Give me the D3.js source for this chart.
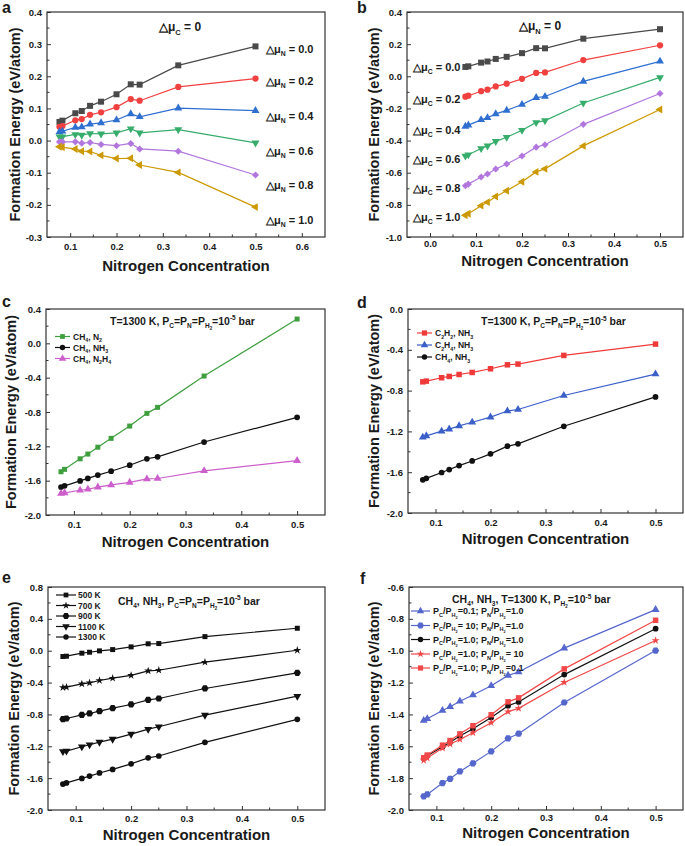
<!DOCTYPE html>
<html><head><meta charset="utf-8">
<script src="https://cdn.jsdelivr.net/npm/d3@7"></script>
<style>body{margin:0;background:#fff}svg{display:block}text{font-family:"Liberation Sans",Arial,sans-serif;font-weight:bold;fill:#1a1a1a}</style>
</head><body><svg id="c" width="685" height="846"></svg>
<script>
// ---------- data ----------
const xConc = [0.0769, 0.0833, 0.1111, 0.125, 0.1429, 0.1667, 0.2, 0.2308, 0.25, 0.3333, 0.5];

// panel a: Δμ_C = 0, varying Δμ_N
const aLabels = ["0.0", "0.2", "0.4", "0.6", "0.8", "1.0"];
const aN00 = [0.058, 0.062, 0.085, 0.092, 0.108, 0.121, 0.144, 0.175, 0.174, 0.234, 0.293];
const aN02 = [0.043, 0.045, 0.063, 0.067, 0.080, 0.088, 0.104, 0.129, 0.124, 0.167, 0.193];
const aN04 = [0.027, 0.029, 0.041, 0.042, 0.051, 0.055, 0.064, 0.083, 0.074, 0.101, 0.093];
const aN06 = [0.012, 0.012, 0.019, 0.017, 0.022, 0.021, 0.024, 0.037, 0.024, 0.034, -0.007];
const aN08 = [-0.004, -0.004, -0.004, -0.008, -0.006, -0.012, -0.016, -0.009, -0.026, -0.033, -0.107];
const aN10 = [-0.019, -0.021, -0.026, -0.033, -0.034, -0.046, -0.056, -0.055, -0.076, -0.099, -0.207];

// panel b: Δμ_N = 0, varying Δμ_C
const bC00 = [0.058, 0.062, 0.085, 0.092, 0.108, 0.121, 0.144, 0.175, 0.174, 0.234, 0.293];
const bC02 = [-0.127, -0.121, -0.093, -0.083, -0.063, -0.046, -0.016, 0.021, 0.024, 0.101, 0.193];
const bC04 = [-0.312, -0.304, -0.271, -0.258, -0.234, -0.212, -0.176, -0.133, -0.126, -0.032, 0.093];
const bC06 = [-0.496, -0.488, -0.449, -0.433, -0.405, -0.379, -0.336, -0.287, -0.276, -0.166, -0.007];
const bC08 = [-0.681, -0.671, -0.627, -0.608, -0.577, -0.546, -0.496, -0.441, -0.426, -0.299, -0.107];
const bC10 = [-0.865, -0.855, -0.805, -0.783, -0.748, -0.712, -0.656, -0.595, -0.576, -0.433, -0.207];

// panel c
const cCH4N2   = [-1.496, -1.468, -1.345, -1.290, -1.210, -1.107, -0.964, -0.816, -0.746, -0.381, 0.283];
const cCH4NH3  = [-1.675, -1.660, -1.603, -1.574, -1.535, -1.490, -1.420, -1.345, -1.322, -1.150, -0.862];
const cCH4N2H4 = [-1.750, -1.742, -1.712, -1.700, -1.675, -1.650, -1.620, -1.580, -1.575, -1.485, -1.367];

// panel d
const dC2H2NH3 = [-0.714, -0.707, -0.674, -0.661, -0.642, -0.622, -0.586, -0.547, -0.540, -0.455, -0.344];
const dC2H4NH3 = [-1.257, -1.244, -1.198, -1.178, -1.146, -1.110, -1.060, -1.000, -0.985, -0.848, -0.638];
const dCH4NH3  = [-1.675, -1.660, -1.603, -1.574, -1.535, -1.490, -1.420, -1.345, -1.322, -1.150, -0.862];

// panel e
const e500  = [-0.073, -0.069, -0.031, -0.019, -0.002, 0.014, 0.048, 0.087, 0.090, 0.177, 0.282];
const e700  = [-0.462, -0.457, -0.416, -0.403, -0.374, -0.345, -0.310, -0.253, -0.245, -0.144, 0.006];
const e900  = [-0.859, -0.851, -0.805, -0.788, -0.759, -0.721, -0.675, -0.617, -0.600, -0.474, -0.278];
const e1100 = [-1.265, -1.260, -1.206, -1.181, -1.148, -1.110, -1.047, -0.985, -0.955, -0.809, -0.571];
const e1300 = [-1.675, -1.660, -1.603, -1.574, -1.535, -1.490, -1.420, -1.345, -1.322, -1.150, -0.862];

// panel f
const fPc01   = [-1.438, -1.427, -1.375, -1.352, -1.317, -1.278, -1.220, -1.155, -1.134, -0.984, -0.742];
const fPc10   = [-1.914, -1.902, -1.831, -1.804, -1.758, -1.707, -1.632, -1.550, -1.521, -1.325, -0.999];
const fBase   = [-1.675, -1.660, -1.603, -1.574, -1.535, -1.490, -1.420, -1.345, -1.322, -1.150, -0.862];
const fPn10   = [-1.689, -1.674, -1.611, -1.586, -1.557, -1.515, -1.452, -1.383, -1.362, -1.199, -0.936];
const fPn01   = [-1.672, -1.655, -1.593, -1.564, -1.522, -1.471, -1.402, -1.321, -1.296, -1.114, -0.809];

// ticks
const xTicksA = [0.1, 0.2, 0.3, 0.4, 0.5, 0.6];
const xTicksB = [0.0, 0.1, 0.2, 0.3, 0.4, 0.5];
const xTicksC = [0.1, 0.2, 0.3, 0.4, 0.5];
const yTicksA = [-0.3, -0.2, -0.1, 0.0, 0.1, 0.2, 0.3, 0.4];
const yTicksB = [-1.0, -0.8, -0.6, -0.4, -0.2, 0.0, 0.2, 0.4];
const yTicksC = [-2.0, -1.6, -1.2, -0.8, -0.4, 0.0, 0.4];
const yTicksD = [-2.0, -1.6, -1.2, -0.8, -0.4, 0.0];
const yTicksE = [-2.0, -1.6, -1.2, -0.8, -0.4, 0.0, 0.4, 0.8];
const yTicksF = [-2.0, -1.8, -1.6, -1.4, -1.2, -1.0, -0.8, -0.6];

// ---------- helpers ----------
const svg = d3.select("#c");
const COL = {k:"#4a4a4a", r:"#f14040", b:"#2f6fd0", g:"#37ad6b", p:"#b177de", o:"#cc9900"};

// markup: _{sub}  ^{sup}  ~{sub of sub}
function rich(sel, str, fs) {
  const re = /([_^~])\{([^}]*)\}/g; let last = 0, m; const parts = [];
  while ((m = re.exec(str))) {
    if (m.index > last) parts.push({t: str.slice(last, m.index), k: ""});
    parts.push({t: m[2], k: m[1]}); last = re.lastIndex;
  }
  if (last < str.length) parts.push({t: str.slice(last), k: ""});
  let cur = 0;
  parts.forEach(p => {
    let off = 0, sz = fs;
    if (p.k === "_") { off = fs * 0.3; sz = fs * 0.62; }
    else if (p.k === "^") { off = -fs * 0.4; sz = fs * 0.62; }
    else if (p.k === "~") { off = fs * 0.5; sz = fs * 0.42; }
    const ts = sel.append("tspan").text(p.t).attr("font-size", sz);
    if (off - cur !== 0) ts.attr("dy", off - cur);
    cur = off;
  });
  return sel;
}

function hexPath(r) {
  let p = "";
  for (let i = 0; i < 6; i++) { const a = Math.PI / 3 * i; p += (i ? "L" : "M") + (r * Math.cos(a)).toFixed(2) + "," + (r * Math.sin(a)).toFixed(2); }
  return p + "Z";
}
function marker(g, shape, size, color, x, y) {
  let path, rot = 0;
  const A = size * size;
  switch (shape) {
    case "square": path = d3.symbol(d3.symbolSquare, A)(); break;
    case "circle": path = d3.symbol(d3.symbolCircle, A * 0.85)(); break;
    case "up": path = d3.symbol(d3.symbolTriangle, A * 0.75)(); break;
    case "down": path = d3.symbol(d3.symbolTriangle, A * 0.75)(); rot = 180; break;
    case "left": path = d3.symbol(d3.symbolTriangle, A * 0.75)(); rot = -90; break;
    case "diamond": path = d3.symbol(d3.symbolSquare, A * 0.7)(); rot = 45; break;
    case "star": path = d3.symbol(d3.symbolStar, A * 0.55)(); break;
    case "hex": path = hexPath(size * 0.55); break;
  }
  g.append("path").attr("d", path).attr("fill", color)
    .attr("transform", `translate(${x},${y}) rotate(${rot})`);
}

function panel(cfg) {
  const g = svg.append("g");
  const x = d3.scaleLinear().domain(cfg.xDomain).range([cfg.L, cfg.R]);
  const y = d3.scaleLinear().domain(cfg.yDomain).range([cfg.B, cfg.T]);
  const fmt = v => (Math.abs(v) < 1e-9 ? 0 : v).toFixed(1);
  const xAx = d3.axisBottom(x).tickValues(cfg.xTicks).tickFormat(fmt).tickSizeInner(-4).tickSizeOuter(0).tickPadding(cfg.xPad || 6);
  const yAx = d3.axisLeft(y).tickValues(cfg.yTicks).tickFormat(fmt).tickSizeInner(-4).tickSizeOuter(0).tickPadding(5);
  const gx = g.append("g").attr("transform", `translate(0,${cfg.B})`).call(xAx);
  const gy = g.append("g").attr("transform", `translate(${cfg.L},0)`).call(yAx);
  [gx, gy].forEach(a => {
    a.select(".domain").remove();
    a.selectAll("line").attr("stroke", "#333").attr("stroke-width", 1);
    a.selectAll("text").attr("font-size", 9.5).attr("font-family", '"Liberation Sans",Arial,sans-serif').attr("font-weight", "bold").attr("fill", "#1a1a1a");
  });
  const xs = cfg.xTicks, ys = cfg.yTicks;
  const xm = [], ym = [];
  for (let i = 0; i < xs.length - 1; i++) xm.push((xs[i] + xs[i + 1]) / 2);
  for (let i = 0; i < ys.length - 1; i++) ym.push((ys[i] + ys[i + 1]) / 2);
  xm.forEach(v => g.append("line").attr("x1", x(v)).attr("x2", x(v)).attr("y1", cfg.B).attr("y2", cfg.B - 2.5).attr("stroke", "#333"));
  ym.forEach(v => g.append("line").attr("y1", y(v)).attr("y2", y(v)).attr("x1", cfg.L).attr("x2", cfg.L + 2.5).attr("stroke", "#333"));
  g.append("rect").attr("x", cfg.L).attr("y", cfg.T).attr("width", cfg.R - cfg.L).attr("height", cfg.B - cfg.T)
    .attr("fill", "none").attr("stroke", "#333").attr("stroke-width", 1.2);
  const line = d3.line().x((d, i) => x(xConc[i])).y(d => y(d));
  cfg.series.forEach(s => {
    g.append("path").datum(s.values).attr("d", line).attr("fill", "none").attr("stroke", s.color).attr("stroke-width", 1.2);
    s.values.forEach((v, i) => marker(g, s.shape, s.size || 6, s.color, x(xConc[i]), y(v)));
  });
  g.append("text").attr("x", (cfg.L + cfg.R) / 2).attr("y", cfg.xTitleY).attr("text-anchor", "middle").attr("font-size", 15).text("Nitrogen Concentration");
  g.append("text").attr("transform", `translate(${cfg.yTitleX},${(cfg.T + cfg.B) / 2}) rotate(-90)`).attr("text-anchor", "middle").attr("font-size", 14.5).text("Formation Energy (eV/atom)");
  g.append("text").attr("x", cfg.letterX).attr("y", cfg.letterY).attr("font-size", 16).text(cfg.letter);
  if (cfg.legend) {
    const lg = cfg.legend;
    cfg.series.forEach((s, i) => {
      const yy = lg.ys[i];
      g.append("line").attr("x1", lg.x1).attr("x2", lg.x2).attr("y1", yy).attr("y2", yy).attr("stroke", s.color).attr("stroke-width", 1.2);
      marker(g, s.shape, (s.size || 6) * 0.95, s.color, (lg.x1 + lg.x2) / 2, yy);
      rich(g.append("text").attr("x", lg.tx).attr("y", yy + 3.2).attr("font-size", lg.fs), s.name, lg.fs);
    });
  }
  return {g, x, y};
}

// ---------- panel a ----------
const aSeries = [aN00, aN02, aN04, aN06, aN08, aN10];
const aCols = [COL.k, COL.r, COL.b, COL.g, COL.p, COL.o];
const shapes6 = ["square", "circle", "up", "down", "diamond", "left"];
const pa = panel({L: 47, R: 325, T: 12, B: 237, xDomain: [0.05, 0.65], yDomain: [-0.3, 0.4],
  xTicks: xTicksA, yTicks: yTicksA,
  series: aSeries.map((v, i) => ({values: v, color: aCols[i], shape: shapes6[i], size: 6})),
  xTitleY: 271, yTitleX: 20, letter: "a", letterX: 2, letterY: 13});
rich(pa.g.append("text").attr("x", 159).attr("y", 31).attr("font-size", 12), "△μ_{C} = 0", 12);
const aLabY = [53, 85, 120, 155, 189, 224];
aLabels.forEach((l, i) => rich(pa.g.append("text").attr("x", 266).attr("y", aLabY[i]).attr("font-size", 11), "△μ_{N} = " + l, 11));

// ---------- panel b ----------
const bSeries = [bC00, bC02, bC04, bC06, bC08, bC10];
const pb = panel({L: 407, R: 683, T: 12, B: 237, xDomain: [-0.05, 0.55], yDomain: [-1.0, 0.4],
  xTicks: xTicksB, yTicks: yTicksB, xPad: 3,
  series: bSeries.map((v, i) => ({values: v, color: aCols[i], shape: shapes6[i], size: 6})),
  xTitleY: 266, yTitleX: 379, letter: "b", letterX: 357, letterY: 13});
rich(pb.g.append("text").attr("x", 519).attr("y", 30).attr("font-size", 12), "△μ_{N} = 0", 12);
const bLabY = [71, 103, 134, 163, 192, 221];
aLabels.forEach((l, i) => rich(pb.g.append("text").attr("x", 413).attr("y", bLabY[i]).attr("font-size", 11), "△μ_{C} = " + l, 11));

// ---------- panel c ----------
const pc = panel({L: 46, R: 325, T: 309, B: 515, xDomain: [0.05, 0.55], yDomain: [-2.0, 0.4],
  xTicks: xTicksC, yTicks: yTicksC,
  series: [
    {values: cCH4N2, color: "#3f9f3f", shape: "square", size: 5, name: "CH_{4}, N_{2}"},
    {values: cCH4NH3, color: "#111", shape: "circle", size: 5.5, name: "CH_{4}, NH_{3}"},
    {values: cCH4N2H4, color: "#cc5fcc", shape: "up", size: 6, name: "CH_{4}, N_{2}H_{4}"}],
  legend: {x1: 55, x2: 70, tx: 73, ys: [336.5, 347.5, 358.5], fs: 8.5},
  xTitleY: 547, yTitleX: 16, letter: "c", letterX: 2, letterY: 307});
rich(pc.g.append("text").attr("x", 110).attr("y", 324.5).attr("font-size", 10.5), "T=1300 K, P_{C}=P_{N}=P_{H}~{2}=10^{-5} bar", 10.5);

// ---------- panel d ----------
const pd = panel({L: 408, R: 683, T: 309, B: 513, xDomain: [0.05, 0.55], yDomain: [-2.0, 0.0],
  xTicks: xTicksC, yTicks: yTicksD,
  series: [
    {values: dC2H2NH3, color: "#f03a3a", shape: "square", size: 5.5, name: "C_{2}H_{2}, NH_{3}"},
    {values: dC2H4NH3, color: "#3a5fc8", shape: "up", size: 6, name: "C_{2}H_{4}, NH_{3}"},
    {values: dCH4NH3, color: "#111", shape: "circle", size: 5.5, name: "CH_{4}, NH_{3}"}],
  legend: {x1: 417, x2: 432, tx: 435, ys: [333, 345, 357], fs: 8.5},
  xTitleY: 544, yTitleX: 379, letter: "d", letterX: 357, letterY: 308});
rich(pd.g.append("text").attr("x", 481).attr("y", 325).attr("font-size", 10.5), "T=1300 K, P_{C}=P_{N}=P_{H}~{2}=10^{-5} bar", 10.5);

// ---------- panel e ----------
const pe = panel({L: 48, R: 325, T: 587, B: 810, xDomain: [0.05, 0.55], yDomain: [-2.0, 0.8],
  xTicks: xTicksC, yTicks: yTicksE, xPad: 5,
  series: [
    {values: e500, color: "#111", shape: "square", size: 5, name: "500 K"},
    {values: e700, color: "#111", shape: "star", size: 6, name: "700 K"},
    {values: e900, color: "#111", shape: "hex", size: 6.5, name: "900 K"},
    {values: e1100, color: "#111", shape: "down", size: 6, name: "1100 K"},
    {values: e1300, color: "#111", shape: "circle", size: 5.5, name: "1300 K"}],
  legend: {x1: 56, x2: 76, tx: 78, ys: [595, 605.5, 616, 626.5, 637], fs: 8.5},
  xTitleY: 840, yTitleX: 19, letter: "e", letterX: 2, letterY: 583});
rich(pe.g.append("text").attr("x", 118).attr("y", 604.5).attr("font-size", 10.5), "CH_{4}, NH_{3},  P_{C}=P_{N}=P_{H}~{2}=10^{-5} bar", 10.5);

// ---------- panel f ----------
const pf = panel({L: 409, R: 683, T: 587, B: 810, xDomain: [0.05, 0.55], yDomain: [-2.0, -0.6],
  xTicks: xTicksC, yTicks: yTicksF, xPad: 4,
  series: [
    {values: fPc01, color: "#5566cc", shape: "up", size: 6, name: "P_{C}/P_{H}~{2}=0.1; P_{N}/P_{H}~{2}=1.0"},
    {values: fPc10, color: "#5566cc", shape: "hex", size: 6.5, name: "P_{C}/P_{H}~{2}= 10; P_{N}/P_{H}~{2}=1.0"},
    {values: fBase, color: "#111", shape: "circle", size: 5.5, name: "P_{C}/P_{H}~{2}=1.0; P_{N}/P_{H}~{2}=1.0"},
    {values: fPn10, color: "#f04848", shape: "star", size: 6, name: "P_{C}/P_{H}~{2}=1.0; P_{N}/P_{H}~{2}= 10"},
    {values: fPn01, color: "#f04848", shape: "square", size: 5.5, name: "P_{C}/P_{H}~{2}=1.0; P_{N}/P_{H}~{2}=0.1"}],
  legend: {x1: 411, x2: 430, tx: 433, ys: [611, 625.5, 639.5, 654, 668], fs: 9},
  xTitleY: 838, yTitleX: 379, letter: "f", letterX: 360, letterY: 584});
rich(pf.g.append("text").attr("x", 452).attr("y", 603).attr("font-size", 10.5), "CH_{4}, NH_{3}, T=1300 K,  P_{H}~{2}=10^{-5} bar", 10.5);
</script></body></html>
